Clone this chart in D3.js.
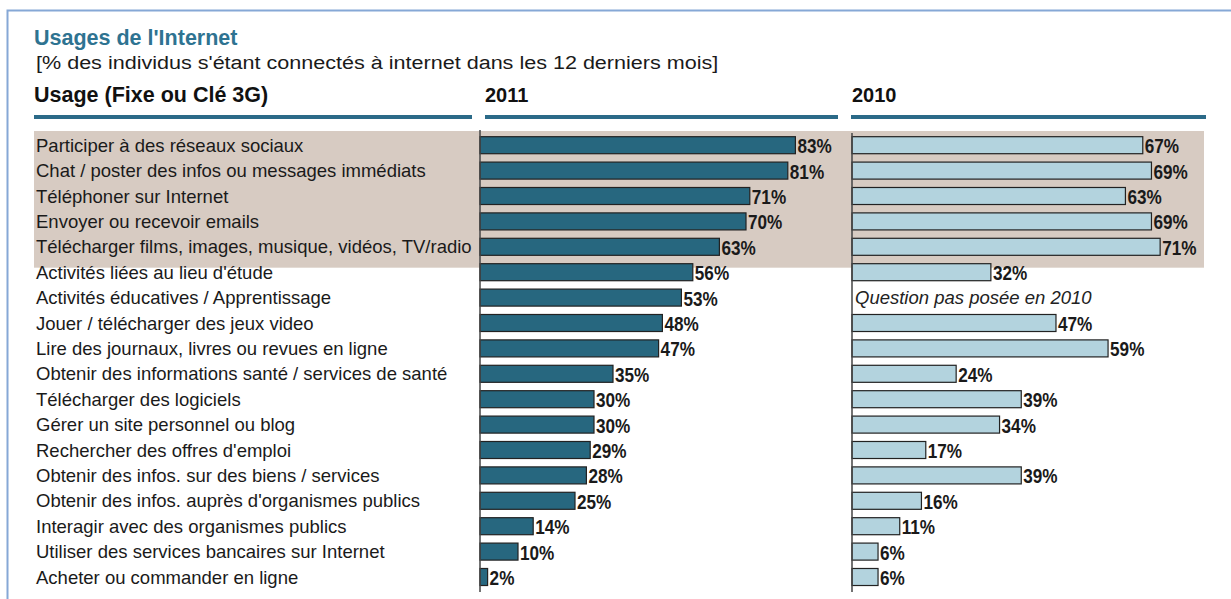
<!DOCTYPE html>
<html>
<head>
<meta charset="utf-8">
<script src="https://cdn.jsdelivr.net/npm/d3@7"></script>
<style>
  body { margin: 0; background: #fff; }
  svg { display: block; font-family: "Liberation Sans", Arial, sans-serif; }
</style>
</head>
<body>
<svg id="chart" width="1231" height="599"></svg>
<script>
var usages = [
  "Participer à des réseaux sociaux",
  "Chat / poster des infos ou messages immédiats",
  "Téléphoner sur Internet",
  "Envoyer ou recevoir emails",
  "Télécharger films, images, musique, vidéos, TV/radio",
  "Activités liées au lieu d'étude",
  "Activités éducatives / Apprentissage",
  "Jouer / télécharger des jeux video",
  "Lire des journaux, livres ou revues en ligne",
  "Obtenir des informations santé / services de santé",
  "Télécharger des logiciels",
  "Gérer un site personnel ou blog",
  "Rechercher des offres d'emploi",
  "Obtenir des infos. sur des biens / services",
  "Obtenir des infos. auprès d'organismes publics",
  "Interagir avec des organismes publics",
  "Utiliser des services bancaires sur Internet",
  "Acheter ou commander en ligne"
];
var values2011 = [83, 81, 71, 70, 63, 56, 53, 48, 47, 35, 30, 30, 29, 28, 25, 14, 10, 2];
var values2010 = [67, 69, 63, 69, 71, 32, null, 47, 59, 24, 39, 34, 17, 39, 16, 11, 6, 6];
var highlighted = 5; // top rows on beige background
var missingText = "Question pas posée en 2010";

var svg = d3.select("#chart");

// frame
svg.append("path")
  .attr("d", "M7.5,599 V10.5 H1231")
  .attr("fill", "none")
  .attr("stroke", "#86a8d6")
  .attr("stroke-width", 2);

var y = d3.scaleBand()
  .domain(usages)
  .range([132.5, 132.5 + usages.length * 25.4])
  .paddingInner(0.33)
  .paddingOuter(0.165);

var x2011 = d3.scaleLinear().domain([0, 100]).range([480, 860]);
var x2010 = d3.scaleLinear().domain([0, 100]).range([852, 1286]);

// beige highlight
svg.append("rect")
  .attr("x", 34)
  .attr("y", 131)
  .attr("width", 1170)
  .attr("height", y(usages[highlighted]) + 4 - 131)
  .attr("fill", "#d7cbc2");

// titles
svg.append("text").attr("x", 34).attr("y", 45)
  .attr("font-size", 21.5).attr("font-weight", "bold").attr("fill", "#2e7391")
  .text("Usages de l'Internet");
// subtitle is drawn wide in the original
svg.append("text").attr("transform", "translate(36,69) scale(1.135,1)")
  .attr("font-size", 19).attr("fill", "#1a1a1a")
  .text("[% des individus s'étant connectés à internet dans les 12 derniers mois]");

var headers = [
  {label: "Usage (Fixe ou Clé 3G)", x: 34, x1: 34, x2: 472, size: 21.5},
  {label: "2011", x: 485, x1: 485, x2: 838, size: 20},
  {label: "2010", x: 852, x1: 851, x2: 1206, size: 20}
];
headers.forEach(function (h) {
  svg.append("text").attr("x", h.x).attr("y", 102)
    .attr("font-size", h.size).attr("font-weight", "bold").attr("fill", "#111")
    .text(h.label);
  svg.append("line")
    .attr("x1", h.x1).attr("x2", h.x2)
    .attr("y1", 117).attr("y2", 117)
    .attr("stroke", "#2b6a88").attr("stroke-width", 4);
});

// row labels
svg.append("g").selectAll("text")
  .data(usages)
  .join("text")
  .attr("x", 36)
  .attr("y", function (d) { return y(d) + y.bandwidth() / 2; })
  .attr("dy", "0.36em")
  .attr("font-size", 18.5)
  .attr("fill", "#1a1a1a")
  .text(function (d) { return d; });

function drawPanel (values, x, fill, axisTop) {
  var g = svg.append("g");
  var rows = usages.map(function (u, i) { return {usage: u, value: values[i]}; });
  var withValue = rows.filter(function (r) { return r.value !== null; });

  g.selectAll("rect")
    .data(withValue)
    .join("rect")
    .attr("x", x(0))
    .attr("y", function (d) { return y(d.usage); })
    .attr("width", function (d) { return x(d.value) - x(0); })
    .attr("height", y.bandwidth())
    .attr("fill", fill)
    .attr("stroke", "#222")
    .attr("stroke-width", 1.2);

  // narrow bold labels: no condensed font installed, so squeeze horizontally
  g.selectAll("text.value")
    .data(withValue)
    .join("text")
    .attr("class", "value")
    .attr("transform", function (d) {
      return "translate(" + (x(d.value) + 2) + "," + (y(d.usage) + y.bandwidth() / 2 + 1) + ") scale(0.88,1)";
    })
    .attr("dy", "0.36em")
    .attr("font-weight", "bold")
    .attr("font-size", 19.5)
    .attr("fill", "#1a1a1a")
    .text(function (d) { return d.value + "%"; });

  g.selectAll("text.missing")
    .data(rows.filter(function (r) { return r.value === null; }))
    .join("text")
    .attr("class", "missing")
    .attr("x", x(0) + 3)
    .attr("y", function (d) { return y(d.usage) + y.bandwidth() / 2; })
    .attr("dy", "0.36em")
    .attr("font-size", 18.5)
    .attr("font-style", "italic")
    .attr("fill", "#222")
    .text(missingText);

  g.append("line")
    .attr("x1", x(0)).attr("x2", x(0))
    .attr("y1", axisTop).attr("y2", 592)
    .attr("stroke", "#444").attr("stroke-width", 1.5);
}

drawPanel(values2011, x2011, "#27677f", 130);
drawPanel(values2010, x2010, "#b3d3de", 133);
</script>
</body>
</html>
